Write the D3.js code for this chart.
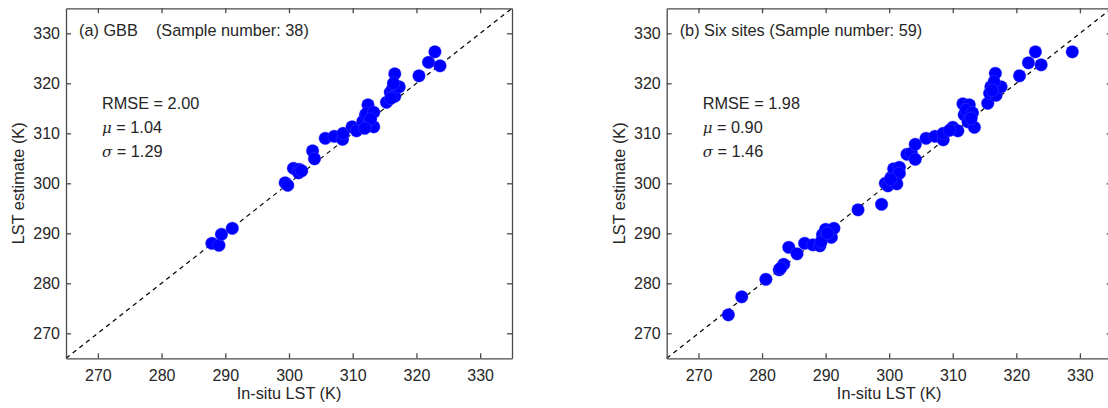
<!DOCTYPE html>
<html>
<head>
<meta charset="utf-8">
<script src="https://cdn.jsdelivr.net/npm/d3@7"></script>
<style>
  body { margin: 0; background: #fff; }
  svg { font-family: "Liberation Sans", Arial, sans-serif; }
  .axis path, .axis line { stroke: #4a4a4a; stroke-width: 1.3; }
  .axis text { fill: #262626; font-size: 16px; }
</style>
</head>
<body>
<svg width="1108" height="408"></svg>
<script>
// data (in-situ LST, estimated LST), K
var gbbInsitu = [287.9, 289.0, 289.4, 291.1, 299.4, 299.8, 300.7, 301.6, 301.5, 303.7,
  304.0, 305.7, 307.1, 308.4, 308.5, 309.9, 310.6, 311.6, 312.0, 312.4,
  312.2, 313.3, 313.3, 315.3, 315.9, 316.3, 316.6, 317.3, 316.6, 316.4,
  320.4, 321.9, 322.9, 323.7, 312.8, 311.9, 316.0, 302.0];
var gbbEstimate = [288.0, 287.6, 289.8, 291.0, 300.1, 299.6, 303.0, 302.8, 302.1, 306.5,
  304.9, 309.0, 309.4, 308.8, 310.0, 311.3, 310.5, 312.4, 313.7, 315.7,
  314.0, 314.2, 311.3, 316.2, 318.2, 319.0, 317.4, 319.3, 321.9, 320.0,
  321.5, 324.2, 326.3, 323.5, 312.8, 311.0, 317.0, 302.5];

var sixInsitu = [274.7, 276.8, 280.6, 282.7, 283.4, 284.2, 285.5, 286.7, 288.0, 289.1,
  289.5, 290.0, 290.9, 291.3, 295.1, 298.8, 299.4, 299.8, 300.3, 300.7,
  301.6, 301.6, 301.2, 302.8, 303.5, 304.1, 304.1, 305.8, 307.2, 308.5,
  308.5, 310.0, 310.8, 311.6, 312.6, 311.8, 312.1, 313.1, 312.4, 313.4,
  315.5, 315.8, 316.0, 316.8, 317.6, 316.7, 316.5, 320.5, 321.9, 323.0,
  323.9, 328.8, 289.3, 290.3, 282.9, 300.2, 312.9, 316.2, 309.5];
var sixEstimate = [273.7, 277.3, 280.8, 282.7, 283.8, 287.2, 285.9, 288.0, 287.7, 287.5,
  289.7, 290.8, 289.2, 291.0, 294.7, 295.8, 300.0, 299.5, 301.2, 302.9,
  303.2, 302.0, 299.9, 305.8, 306.0, 307.8, 304.8, 309.0, 309.4, 308.7,
  310.0, 311.2, 310.5, 315.9, 315.7, 313.7, 314.7, 314.1, 312.3, 311.2,
  316.0, 318.0, 319.3, 317.6, 319.3, 322.0, 320.3, 321.5, 324.1, 326.3,
  323.7, 326.3, 288.3, 290.0, 283.0, 300.8, 313.0, 318.6, 310.6];

var ticks = [270, 280, 290, 300, 310, 320, 330];
var domain = [265, 335];

var svg = d3.select('svg');

function drawPanel(left, right, xs, ys, title, stats) {
  var top = 8.3, bottom = 358.3;
  var x = d3.scaleLinear().domain(domain).range([left, right]);
  var y = d3.scaleLinear().domain(domain).range([bottom, top]);
  var g = svg.append('g');

  // 1:1 line
  g.append('line')
    .attr('x1', x(domain[0])).attr('y1', y(domain[0]))
    .attr('x2', x(domain[1])).attr('y2', y(domain[1]))
    .attr('stroke', '#000').attr('stroke-width', 1.2)
    .attr('stroke-dasharray', '4.5,4');

  // points
  g.selectAll('circle')
    .data(xs)
    .enter()
    .append('circle')
      .attr('cx', d => x(d))
      .attr('cy', (d, i) => y(ys[i]))
      .attr('r', 6.4)
      .attr('fill', '#0000ff')
      .attr('stroke', 'rgba(90,90,255,0.4)')
      .attr('stroke-width', 0.8);

  // box with inward ticks on all four sides (negative size = inward)
  g.append('g').attr('class', 'axis')
    .attr('transform', 'translate(0,' + bottom + ')')
    .call(d3.axisBottom(x).tickValues(ticks).tickSize(-5).tickSizeOuter(0).tickPadding(11));
  g.append('g').attr('class', 'axis')
    .attr('transform', 'translate(0,' + top + ')')
    .call(d3.axisTop(x).tickValues(ticks).tickSize(-5).tickSizeOuter(0).tickFormat(''));
  g.append('g').attr('class', 'axis')
    .attr('transform', 'translate(' + left + ',0)')
    .call(d3.axisLeft(y).tickValues(ticks).tickSize(-5).tickSizeOuter(0).tickPadding(6));
  g.append('g').attr('class', 'axis')
    .attr('transform', 'translate(' + right + ',0)')
    .call(d3.axisRight(y).tickValues(ticks).tickSize(-5).tickSizeOuter(0).tickFormat(''));

  // labels
  g.append('text')
    .attr('x', left + 13).attr('y', 36)
    .style('font-size', '16.3px').attr('fill', '#262626')
    .attr('xml:space', 'preserve')
    .text(title);

  var sy = [109, 133, 157];
  stats.forEach(function (s, i) {
    var t = g.append('text')
      .attr('x', left + 36).attr('y', sy[i])
      .style('font-size', '16.3px').attr('fill', '#262626');
    if (s.sym) {
      t.append('tspan').style('font-style', 'italic').style('font-family', '"DejaVu Serif", serif')
        .style('font-size', '15px').text(s.sym);
      t.append('tspan').text(' = ' + s.v);
    } else {
      t.text(s.label + ' = ' + s.v);
    }
  });

  g.append('text')
    .attr('x', (left + right) / 2).attr('y', 399)
    .style('text-anchor', 'middle').style('font-size', '16.3px').attr('fill', '#262626')
    .text('In-situ LST (K)');

  g.append('text')
    .attr('transform', 'rotate(-90)')
    .attr('x', -(top + bottom) / 2).attr('y', left - 42)
    .style('text-anchor', 'middle').style('font-size', '16.3px').attr('fill', '#262626')
    .text('LST estimate (K)');
}

drawPanel(66, 512, gbbInsitu, gbbEstimate, '(a) GBB    (Sample number: 38)',
  [{label: 'RMSE', v: '2.00'}, {sym: 'μ', v: '1.04'}, {sym: 'σ', v: '1.29'}]);
drawPanel(666.7, 1111.7, sixInsitu, sixEstimate, '(b) Six sites (Sample number: 59)',
  [{label: 'RMSE', v: '1.98'}, {sym: 'μ', v: '0.90'}, {sym: 'σ', v: '1.46'}]);
</script>
</body>
</html>
